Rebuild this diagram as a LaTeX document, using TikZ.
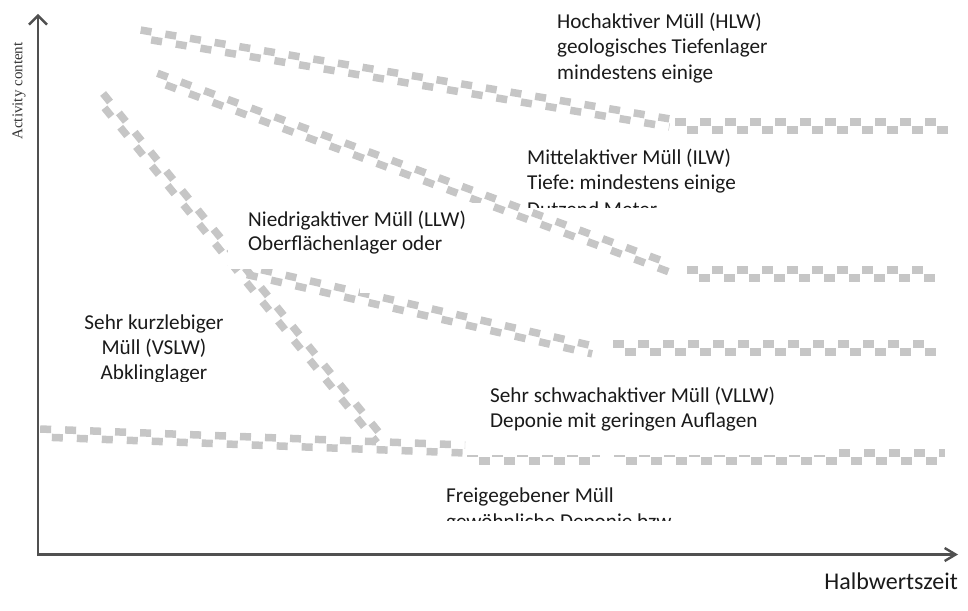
\documentclass[tikz,border=0pt]{standalone}
\usepackage{fontspec}
\setmainfont{Carlito}
\newfontfamily\axserif{Liberation Serif}
\usetikzlibrary{arrows.meta,calc}
\definecolor{bandgray}{HTML}{C6C6C6}
\definecolor{axisgray}{HTML}{505050}
\definecolor{txt}{HTML}{1A1A1A}
\newcommand\chkband[2]{%
  \draw[bandrow] ($(#1)!4pt!90:(#2)$) -- ($(#2)!4pt!-90:(#1)$);
  \draw[bandrow, dash phase=13pt] ($(#1)!4pt!-90:(#2)$) -- ($(#2)!4pt!90:(#1)$);}
\frenchspacing
\begin{document}
\begin{tikzpicture}[x=1pt,y=-1pt,
  bandrow/.style={draw=bandgray, line width=7.5pt, dash pattern=on 11pt off 14pt},
  lbl/.style={font=\fontsize{21.2}{25}\selectfont, text=txt, inner sep=0pt, anchor=base west},
  clbl/.style={lbl, anchor=base},
  axisline/.style={draw=axisgray, line width=2.4pt},
  cover/.style={fill=white, draw=none}]
\useasboundingbox (0,0) rectangle (968,610);
% band end points
\coordinate (h1) at (140,34);  \coordinate (h2) at (670,123);
\coordinate (h3) at (675,126); \coordinate (h4) at (948,126);
\coordinate (i1) at (156,77);  \coordinate (i2) at (670,268);
\coordinate (i3) at (687,274); \coordinate (i4) at (937,274);
\coordinate (l1) at (236,268); \coordinate (l2) at (593,350);
\coordinate (l3) at (613,348); \coordinate (l4) at (937,348);
\coordinate (v1) at (100,96);  \coordinate (v2) at (380,440);
\coordinate (w1) at (40,433);  \coordinate (w2) at (465,449);
\coordinate (w3) at (467,457); \coordinate (w4) at (600,457);
\coordinate (w5) at (614,457); \coordinate (w6) at (945,457);
% bands
\chkband{h1}{h2}\chkband{h3}{h4}
\chkband{i1}{i2}\chkband{i3}{i4}
\chkband{l1}{l2}\chkband{l3}{l4}
\chkband{v1}{v2}
\chkband{w1}{w2}\chkband{w3}{w4}\chkband{w5}{w6}
% white text boxes covering the bands
\fill[cover] (228,203) rectangle (492,269);
\fill[cover] (360,269) rectangle (558,293);
\fill[cover] (466,380) rectangle (825,455);
% axes
\coordinate (O) at (38,556);
\coordinate (ytip) at (38,14);
\coordinate (xtip) at (958,554.5);
\draw[axisline, -{Straight Barb[length=9pt,width=18pt]}] (O) -- (ytip);
\draw[axisline, -{Straight Barb[length=11pt,width=13pt]}] (37,554.5) -- (xtip);
\node[font=\axserif\fontsize{15}{17}\selectfont, text=black!80, rotate=90, inner sep=0pt] (ylab) at (19,91) {Activity content};
\node[lbl, font=\fontsize{24}{28}\selectfont, anchor=base east] (xlab) at (958,589) {Halbwertszeit};
% labels
\node[lbl] (hlwa) at (557,29) {Hochaktiver Müll (HLW)};
\node[lbl] (hlwb) at (557,54) {geologisches Tiefenlager};
\node[lbl] (hlwc) at (557,79) {mindestens einige};
\node[lbl] (ilwa) at (527,164) {Mittelaktiver Müll (ILW)};
\node[lbl] (ilwb) at (527,189) {Tiefe: mindestens einige};
\begin{scope}
  \clip (480,0) rectangle (800,207);
  \node[lbl] (ilwc) at (527,216) {Dutzend Meter};
\end{scope}
\node[lbl] (llwa) at (248,226) {Niedrigaktiver Müll (LLW)};
\node[lbl] (llwb) at (248,250) {Oberflächenlager oder};
\node[clbl] (vsa) at (154,329) {Sehr kurzlebiger};
\node[clbl] (vsb) at (154,354) {Müll (VSLW)};
\begin{scope}
  \clip (60,300) rectangle (250,381);
  \node[clbl] (vsc) at (154,379) {Abklinglager};
\end{scope}
\node[lbl] (vla) at (490,402) {Sehr schwachaktiver Müll (VLLW)};
\node[lbl] (vlb) at (490,427) {Deponie mit geringen Auflagen};
\node[lbl] (fra) at (446,502) {Freigegebener Müll};
\begin{scope}
  \clip (400,480) rectangle (800,520.5);
  \node[lbl] (frb) at (446,528) {gewöhnliche Deponie bzw};
\end{scope}
\end{tikzpicture}
\end{document}
